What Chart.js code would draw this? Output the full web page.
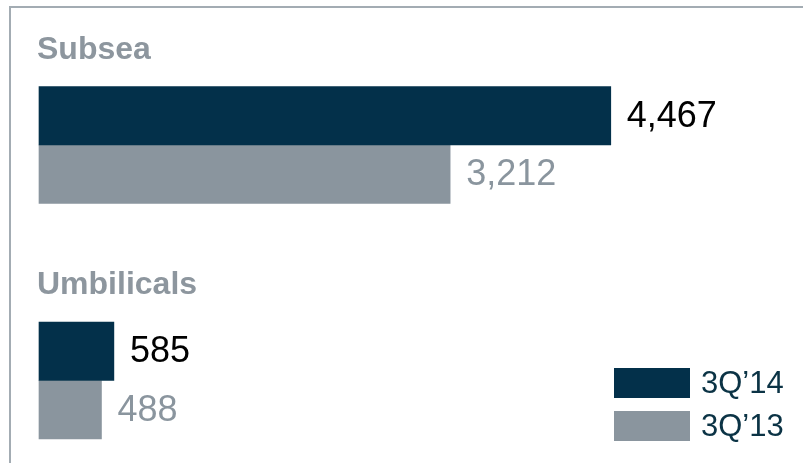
<!DOCTYPE html>
<html>
<head>
<meta charset="utf-8">
<script src="https://cdn.jsdelivr.net/npm/chart.js@4.4.1/dist/chart.umd.min.js"></script>
<style>
  html, body { margin: 0; padding: 0; background: #fff; }
  #wrap { position: relative; width: 803px; height: 463px; }
</style>
</head>
<body>
<div id="wrap"><canvas id="graph" width="803" height="463"></canvas></div>
<script>
// data
const categories = ['Subsea', 'Umbilicals']
const seriesNames = ['3Q\u201914', '3Q\u201913']
const values3Q14 = [4467, 585]
const values3Q13 = [3212, 488]

const DARK = '#03304a'
const GREY = '#8a959e'
const FONT = '"Liberation Sans", Arial, Helvetica, sans-serif'

// border line at top and left
const frame = {
    id: 'frame',
    beforeDraw(chart) {
        const c = chart.ctx
        c.save()
        c.strokeStyle = '#a3acb3'
        c.lineWidth = 2
        c.beginPath()
        c.moveTo(10, 463)
        c.lineTo(10, 7)
        c.lineTo(803, 7)
        c.stroke()
        c.restore()
    }
}

// category titles, value labels and legend
const labels = {
    id: 'labels',
    afterDatasetsDraw(chart) {
        const c = chart.ctx
        c.save()
        c.textBaseline = 'alphabetic'
        c.textAlign = 'left'

        // category names above each group
        const first = chart.getDatasetMeta(0).data
        c.font = 'bold 32px ' + FONT
        c.fillStyle = '#8d969e'
        first.forEach((bar, i) => {
            const top = bar.y - bar.height / 2
            c.fillText(chart.data.labels[i], 37, top - 28)
        })

        // values at the bar ends
        const valueColors = ['#000000', GREY]
        c.font = '36px ' + FONT
        c.textBaseline = 'middle'
        chart.data.datasets.forEach((ds, d) => {
            const meta = chart.getDatasetMeta(d)
            c.fillStyle = valueColors[d]
            meta.data.forEach((bar, i) => {
                c.fillText(ds.data[i].toLocaleString('en-US'), bar.x + 16, bar.y + 1)
            })
        })

        // legend bottom right
        c.font = '31px ' + FONT
        chart.data.datasets.forEach((ds, d) => {
            const y = 368 + d * 43
            c.fillStyle = ds.backgroundColor
            c.fillRect(614, y, 76, 30)
            c.fillStyle = '#0b3345'
            c.fillText(ds.label, 701, y + 16)
        })
        c.restore()
    }
}

const ctx = document.querySelector('#graph').getContext('2d')

const chart = new Chart(ctx, {
    type: 'bar',
    data: {
        labels: categories,
        datasets: [
            { label: seriesNames[0], data: values3Q14, backgroundColor: DARK, barThickness: 58.5, clip: false },
            { label: seriesNames[1], data: values3Q13, backgroundColor: GREY, barThickness: 58.5, clip: false }
        ]
    },
    options: {
        indexAxis: 'y',
        responsive: false,
        devicePixelRatio: 1,
        animation: false,
        events: [],
        layout: { padding: { left: 39, right: 124, top: 145, bottom: 82.5 } },
        scales: {
            x: { type: 'linear', min: 0, max: 5000, display: false },
            y: { type: 'category', offset: false, display: false }
        },
        plugins: {
            legend: { display: false },
            tooltip: { enabled: false }
        }
    },
    plugins: [frame, labels]
})
</script>
</body>
</html>
